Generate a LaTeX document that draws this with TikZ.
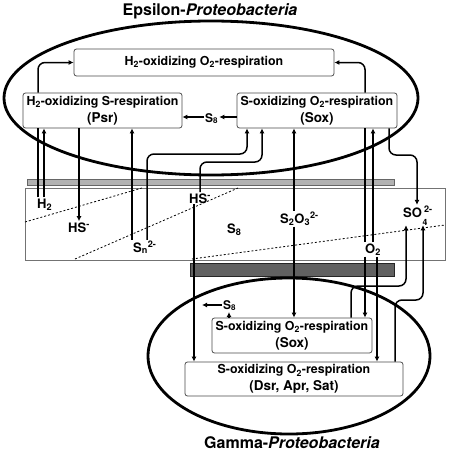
\documentclass[tikz,border=0pt]{standalone}
\usepackage{fontspec}
\setmainfont{TeX Gyre Heros}
\usetikzlibrary{arrows.meta}
\newcommand{\lineA}{\fontsize{12.4}{14}\selectfont}
\newcommand{\lineB}{\fontsize{13.5}{15}\selectfont}
\begin{document}
\begin{tikzpicture}[x=1pt,y=-1pt,
  box/.style={draw=black!70, line width=0.8pt, rounded corners=2.5pt, fill=white, inner sep=0pt, align=center, font=\bfseries\lineA},
  chem/.style={inner sep=1pt, anchor=base west, font=\bfseries\fontsize{13}{14}\selectfont},
  chems/.style={chem, font=\bfseries\fontsize{12}{13}\selectfont},
  conn/.style={line width=1.5pt, rounded corners=7pt},
  arr/.style={conn, -{Latex[length=5pt,width=5pt]}},
  ell/.style={line width=2.8pt},
  ttl/.style={font=\bfseries\fontsize{16}{18}\selectfont},
  zone/.style={dash pattern=on 2pt off 2pt, line width=0.8pt}
]
\fill[white] (0,0) rectangle (449,455);
\useasboundingbox (0,0) rectangle (449,455);

% titles
\node[ttl] (tE) at (210,11) {Epsilon-\textit{Proteobacteria}};
\node[ttl] (tG) at (292,443) {Gamma-\textit{Proteobacteria}};

% sediment band and membranes
\draw[black!55, line width=0.8pt] (25,188) rectangle (445,260);
\draw[black!60, fill=black!30, line width=0.7pt] (27,179) rectangle (394,185);
\draw[black!85, fill=black!62, line width=0.7pt] (190,263) rectangle (394,276);
\draw[zone] (25,222) -- (142,188);
\draw[zone] (75,259) -- (238,188);
\draw[zone] (192,259) -- (445,225);

% ellipses
\draw[ell] (211,98) ellipse [x radius=207pt, y radius=77pt];
\draw[ell] (289,356) ellipse [x radius=141pt, y radius=78pt];

% boxes
\node[box, minimum width=260pt, minimum height=27pt] (h2o2) at (204,62.5)
  {H\textsubscript{2}-oxidizing O\textsubscript{2}-respiration};
\node[box, minimum width=159pt, minimum height=35pt] (psr) at (102.5,110.5)
  {H\textsubscript{2}-oxidizing S-respiration\\[2.5pt]{\lineB (Psr)}};
\node[box, minimum width=160pt, minimum height=35pt] (soxE) at (317,110.5)
  {S-oxidizing O\textsubscript{2}-respiration\\[2.5pt]{\lineB (Sox)}};
\node[box, minimum width=160pt, minimum height=35pt] (soxG) at (292,335.5)
  {S-oxidizing O\textsubscript{2}-respiration\\[2.5pt]{\lineB (Sox)}};
\node[box, minimum width=218pt, minimum height=34pt] (dsr) at (294,379)
  {S-oxidizing O\textsubscript{2}-respiration\\[2.5pt]{\lineB (Dsr, Apr, Sat)}};

% chemical labels
\node[chem] (h2)   at (36,208)  {H\textsubscript{2}};
\node[chem] (hsL)  at (67,232)  {HS\textsuperscript{-}};
\node[chem] (sn)   at (132,252) {S\textsubscript{n}\textsuperscript{2-}};
\node[chem] (hsM)  at (188,203) {HS\textsuperscript{-}};
\node[chem] (s8M)  at (226,233) {S\textsubscript{8}};
\node[chem] (s2o3) at (279,223) {S\textsubscript{2}O\textsubscript{3}\textsuperscript{2-}};
\node[chem] (o2)   at (364,253) {O\textsubscript{2}};
\node[chem] (so4)  at (402,217) {SO\,\textsuperscript{2-}};
\node[inner sep=0pt, font=\bfseries\fontsize{8.6}{9}\selectfont] (so4sub) at (425,222) {4};
\node[chems] (s8E) at (204,122) {S\textsubscript{8}};
\node[chems] (s8G) at (222,309) {S\textsubscript{8}};
\coordinate (s8Gend) at (202,305);

% epsilon connectors
\draw[conn] (38,0 |- h2.north) -- (38,0 |- psr.south);
\draw[arr]  (44,0 |- h2.north) -- (44,0 |- psr.south);
\draw[arr]  (38,0 |- psr.north) |- (h2o2.west);
\draw[arr]  (79,0 |- psr.south) -- (79,0 |- hsL.north);
\draw[arr]  (132,0 |- sn.north) -- (132,0 |- psr.south);
\draw[arr]  (147,0 |- sn.north) -- (147,154) -- (247,154) -- (247,0 |- soxE.south);
\draw[arr]  (200,0 |- hsM.north) -- (200,162) -- (262,162) -- (262,0 |- soxE.south);
\draw[arr]  (294,0 |- s2o3.north) -- (294,0 |- soxE.south);
\draw[conn] (365,0 |- o2.north) -- (365,0 |- soxE.south);
\draw[arr]  (373,0 |- o2.north) -- (373,0 |- soxE.south);
\draw[arr]  (365,0 |- soxE.north) |- (h2o2.east);
\draw[arr]  (389,0 |- soxE.south) -- (389,155) -- (417,155) -- (417,0 |- so4.north);
\draw[arr]  (soxE.west |- 0,117) -- (s8E.east |- 0,117);
\draw[arr]  (s8E.west |- 0,117) -- (psr.east |- 0,117);

% gamma connectors
\draw[arr]  (194,0 |- hsM.south) -- (194,0 |- dsr.north);
\draw[arr]  (294,0 |- s2o3.south) -- (294,0 |- soxG.north);
\draw[arr]  (365,0 |- o2.south) -- (365,0 |- soxG.north);
\draw[arr]  (377,0 |- o2.south) -- (377,0 |- dsr.north);
\draw[arr]  (351,0 |- soxG.north) -- (351,286) -- (406,286) -- (406,0 |- so4sub.south);
\draw[arr]  (395,0 |- dsr.north) -- (395,300) -- (423,300) -- (423,0 |- so4sub.south);
\draw[arr]  (229,0 |- soxG.north) -- (229,0 |- s8G.south);
\draw[arr]  (s8G.west |- s8Gend) -- (s8Gend);
\end{tikzpicture}
\end{document}
